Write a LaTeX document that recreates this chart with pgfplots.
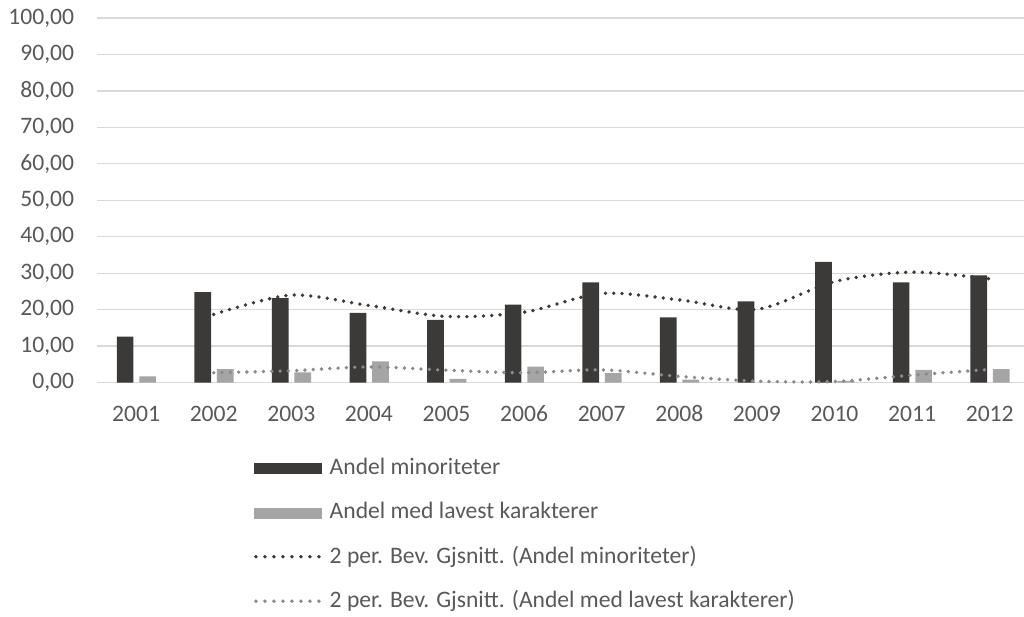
\documentclass[border=0pt]{standalone}
\usepackage{fontspec}
\setmainfont{Carlito}
\usepackage{pgfplots}
\pgfplotsset{compat=1.18}
\definecolor{darkbar}{RGB}{59,58,56}
\definecolor{lightbar}{RGB}{165,165,165}
\definecolor{lightline}{RGB}{138,138,138}
\definecolor{txt}{RGB}{89,89,89}
\definecolor{gridc}{RGB}{217,217,217}
\newcommand{\cfont}{\fontsize{23.6bp}{28bp}\selectfont}
\begin{document}
\begin{tikzpicture}
\useasboundingbox (0,0) rectangle (1024bp,617bp);
\begin{axis}[
  at={(97.3bp,234.4bp)}, anchor=south west,
  scale only axis, width=926.7bp, height=364.6bp,
  xmin=-0.5, xmax=11.442, ymin=0, ymax=100,
  axis line style={draw=none},
  major tick length=0pt,
  ytick={0,10,...,100},
  xtick={0,...,11},
  xticklabels={2001,2002,2003,2004,2005,2006,2007,2008,2009,2010,2011,2012},
  xmajorgrids=false, ymajorgrids=true, major grid style={draw=gridc, line width=1.3bp},
  tick label style={font=\cfont, text=txt},
  /pgf/number format/assume math mode=true,
  yticklabel style={/pgf/number format/fixed, /pgf/number format/fixed zerofill, /pgf/number format/precision=2, /pgf/number format/use comma,
    anchor=east, inner sep=0pt, xshift=-23bp},
  xticklabel style={anchor=base, inner sep=0pt, yshift=-38.4bp},
  clip=false,
  legend style={draw=none, fill=none, inner sep=0pt, outer sep=0pt,
    at={(axis description cs:0.1691,-0.2068)}, anchor=north west,
    font=\cfont, text=txt, row sep=23.5bp,
    nodes={inner ysep=0pt, inner xsep=8bp, text height=16bp, text depth=5bp}},
  legend cell align=left,
]
\addplot[ybar, bar width=16.7bp, bar shift=-11bp, fill=darkbar, draw=none,
  legend image code/.code={\fill[darkbar] (0bp,-5.5bp) rectangle (67.7bp,5.5bp);}]
  coordinates {(0,12.6) (1,24.8) (2,23.2) (3,19.1) (4,17.2) (5,21.4) (6,27.5) (7,17.9) (8,22.3) (9,33.1) (10,27.5) (11,29.4)};
\addlegendentry{Andel minoriteter}
\addplot[ybar, bar width=16.7bp, bar shift=11.5bp, fill=lightbar, draw=none,
  legend image code/.code={\fill[lightbar] (0bp,-5.5bp) rectangle (67.7bp,5.5bp);}]
  coordinates {(0,1.7) (1,3.7) (2,2.8) (3,5.8) (4,1.0) (5,4.4) (6,2.6) (7,0.8) (8,0.0) (9,0.5) (10,3.5) (11,3.7)};
\addlegendentry{Andel med lavest karakterer}
\addplot[smooth, draw=darkbar, line width=3.8bp, line cap=round, dash pattern=on 0bp off 8.3bp,
  legend image code/.code={\draw[darkbar, line width=3.8bp, line cap=round, dash pattern=on 0bp off 9bp] (1.9bp,0.8bp) -- (65bp,0.8bp);}]
  coordinates {(1,18.7) (2,24.0) (3,21.15) (4,18.15) (5,19.3) (6,24.45) (7,22.7) (8,20.1) (9,27.7) (10,30.3) (11,28.45)};
\addlegendentry{2 per. Bev. Gjsnitt. (Andel minoriteter)}
\addplot[smooth, draw=lightline, line width=3.8bp, line cap=round, dash pattern=on 0bp off 8.3bp,
  legend image code/.code={\draw[lightline, line width=3.8bp, line cap=round, dash pattern=on 0bp off 9bp] (1.9bp,0.8bp) -- (65bp,0.8bp);}]
  coordinates {(1,2.7) (2,3.25) (3,4.3) (4,3.4) (5,2.7) (6,3.5) (7,1.7) (8,0.4) (9,0.3) (10,2.05) (11,3.6)};
\addlegendentry{2 per. Bev. Gjsnitt. (Andel med lavest karakterer)}
\end{axis}
\end{tikzpicture}
\end{document}
